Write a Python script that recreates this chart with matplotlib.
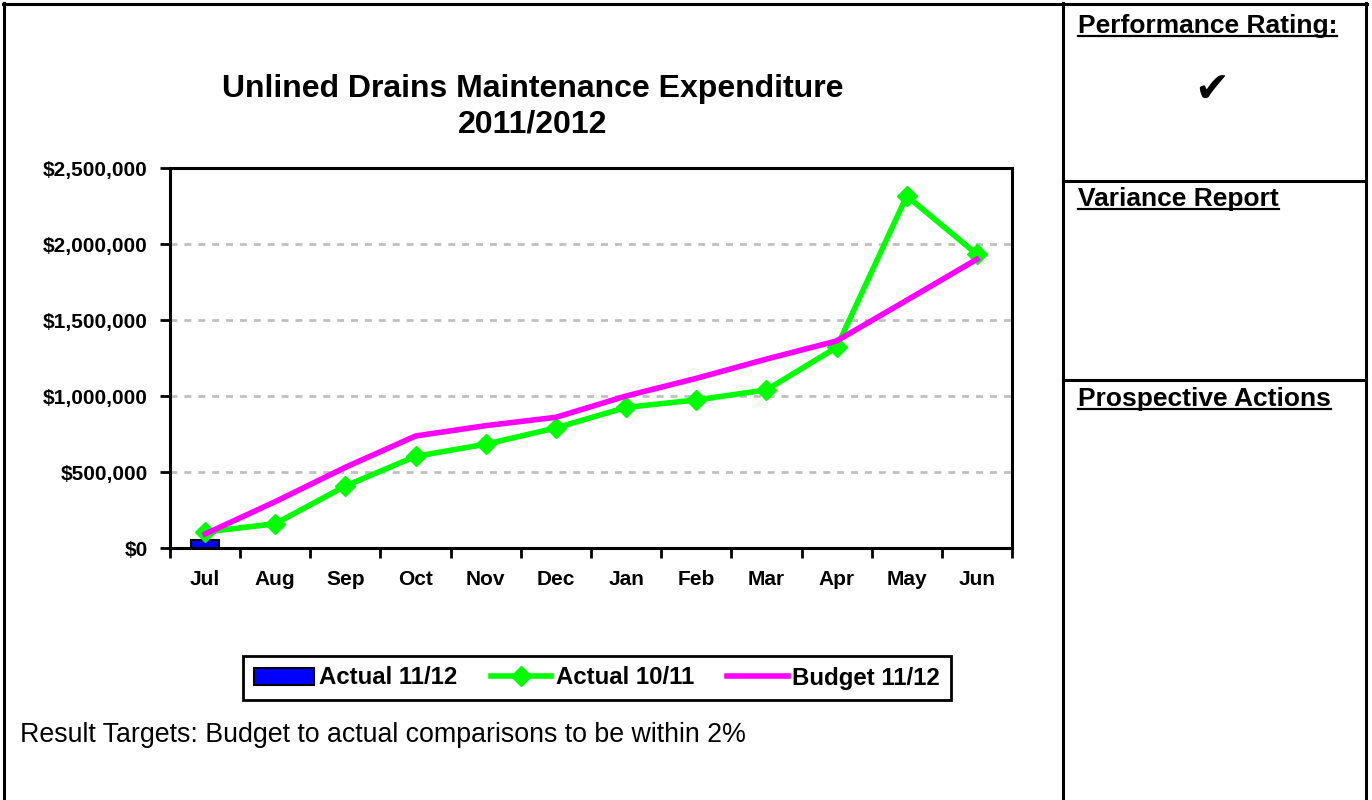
import matplotlib
matplotlib.use('Agg')
import matplotlib.pyplot as plt
from matplotlib.lines import Line2D
from matplotlib.ticker import FuncFormatter, MultipleLocator

plt.rcParams['font.family'] = ['Liberation Sans', 'DejaVu Sans']

months = ['Jul', 'Aug', 'Sep', 'Oct', 'Nov', 'Dec', 'Jan', 'Feb', 'Mar', 'Apr', 'May', 'Jun']
actual_1112 = [50000]  # only July reported so far
actual_1011 = [105000, 160000, 408000, 603000, 683000, 790000,
               925000, 974000, 1040000, 1320000, 2316000, 1932000]
budget_1112 = [92000, 305000, 531000, 737000, 805000, 860000,
               1000000, 1116000, 1243000, 1362000, 1630000, 1900000]

W, H = 1372, 800
fig = plt.figure(figsize=(W / 100, H / 100), dpi=100)
ax = fig.add_axes([170 / W, 1 - 548 / H, (1012 - 170) / W, (548 - 168) / H])

x = list(range(len(months)))
bars = ax.bar(x[:len(actual_1112)], actual_1112, width=0.4, color='#0000FF',
              edgecolor='black', linewidth=1.5, label='Actual 11/12', zorder=3)
l1, = ax.plot(x, actual_1011, color='#00FF00', lw=4, marker='D', markersize=10,
              label='Actual 10/11', zorder=4)
l2, = ax.plot(x, budget_1112, color='#FF00FF', lw=4, label='Budget 11/12', zorder=5)

ax.set_xlim(-0.5, len(months) - 0.5)
ax.set_ylim(0, 2500000)
ax.yaxis.set_major_locator(MultipleLocator(500000))
ax.yaxis.set_major_formatter(FuncFormatter(lambda v, p: '${:,.0f}'.format(v)))
ax.set_xticks(x)
ax.set_xticklabels(months, fontsize=15, fontweight='bold')
ax.set_xticks([i - 0.5 for i in range(len(months) + 1)], minor=True)
ax.tick_params(axis='x', which='major', length=0, pad=16)
ax.tick_params(axis='x', which='minor', length=7, width=2, direction='out')
ax.tick_params(axis='y', length=7, width=2, pad=9, labelsize=15)
for lab in ax.get_yticklabels():
    lab.set_fontweight('bold')
for s in ax.spines.values():
    s.set_linewidth(2.2)
for v in [500000, 1000000, 1500000, 2000000]:
    ax.axhline(v, color='#C0C0C0', lw=2, ls=(0, (2.5, 2.5)), zorder=1)

fig.text(533 / W, 1 - 107 / H, 'Unlined Drains Maintenance Expenditure\n2011/2012',
         ha='center', va='center', fontsize=23, fontweight='bold', linespacing=1.25)

leg = fig.legend([bars, l1, l2], ['Actual 11/12', 'Actual 10/11', 'Budget 11/12'],
                 loc='center', bbox_to_anchor=(597 / W, 1 - 678 / H), ncol=3,
                 prop={'size': 17.3, 'weight': 'bold'}, frameon=True, fancybox=False,
                 framealpha=1, edgecolor='black', handlelength=2.5,
                 handletextpad=0.2, columnspacing=1.4, borderpad=0.45)
leg.get_frame().set_linewidth(2)

fig.text(20 / W, 1 - 735 / H, 'Result Targets: Budget to actual comparisons to be within 2%',
         ha='left', va='center', fontsize=19.3)

# page frame and right panel
def hline(y, x0, x1):
    fig.add_artist(Line2D([x0 / W, x1 / W], [1 - y / H, 1 - y / H], color='black',
                          lw=2.2, transform=fig.transFigure))

def vline(xp, y0, y1):
    fig.add_artist(Line2D([xp / W, xp / W], [1 - y0 / H, 1 - y1 / H], color='black',
                          lw=2.2, transform=fig.transFigure))

hline(4, 3, 1367)
vline(4, 3, 800)
vline(1063, 3, 800)
vline(1366, 3, 800)
hline(181, 1063, 1366)
hline(380, 1063, 1366)

headers = []
for txt, yp in [('Performance Rating:', 26), ('Variance Report', 199), ('Prospective Actions', 399)]:
    headers.append(fig.text(1078 / W, 1 - yp / H, txt, ha='left', va='center',
                            fontsize=19, fontweight='bold'))
fig.text(1212 / W, 1 - 90 / H, '\u2714', ha='center', va='center', fontsize=30,
         family='DejaVu Sans')

fig.canvas.draw()
r = fig.canvas.get_renderer()
for t in headers:
    bb = t.get_window_extent(r)
    yy = bb.y0 + 2
    fig.add_artist(Line2D([bb.x0 / W, bb.x1 / W], [yy / H, yy / H], color='black',
                          lw=1.6, transform=fig.transFigure))

fig.savefig('out.png', dpi=100, facecolor='white')
